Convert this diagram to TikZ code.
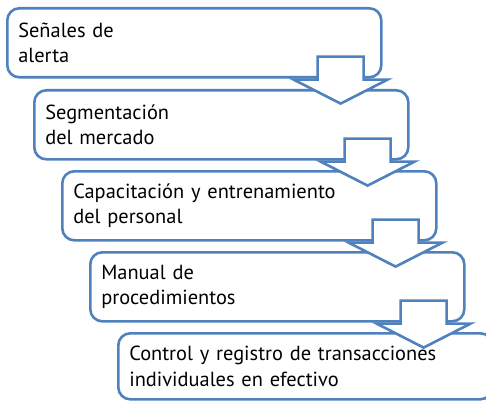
\documentclass[tikz,border=0pt]{standalone}
\usepackage{fontspec}
\setmainfont{PT Sans}
\usepackage{tikz}
\usetikzlibrary{calc}
\definecolor{boxblue}{RGB}{79,129,189}

\begin{document}
\begin{tikzpicture}[x=1pt,y=-1pt]
  \tikzstyle{StepBox}=[draw=boxblue,line width=2.6pt,rounded corners=12pt,fill=white,
    anchor=north west,minimum width=374pt,minimum height=69pt,inner xsep=11pt,
    text width=352pt,align=left,font=\fontsize{20.4}{25.5}\selectfont]
  \tikzstyle{DownArrow}=[draw=boxblue,line width=2.6pt,fill=white,line join=miter]
  \useasboundingbox (0,0) rectangle (486,401);
  \node[StepBox] (alerta) at (6,7) {Señales de\\alerta};
  \node[StepBox] (mercado) at (33,89) {Segmentación\\del mercado};
  \node[StepBox] (personal) at (61,170) {Capacitación y entrenamiento\\del personal};
  \node[StepBox] (manual) at (89,251) {Manual de\\procedimientos};
  \node[StepBox,minimum width=368pt,minimum height=66pt] (control) at (117,332)
    {Control y registro de transacciones\\individuales en efectivo};
  \foreach \from in {alerta,mercado,personal,manual}
    \draw[DownArrow] ($(\from.south east)+(-65,-22)$) -- ++(46,0) -- ++(0,23)
      -- ++(24,0) -- ++(-47,24) -- ++(-47,-24) -- ++(24,0) -- cycle;
\end{tikzpicture}
\end{document}
